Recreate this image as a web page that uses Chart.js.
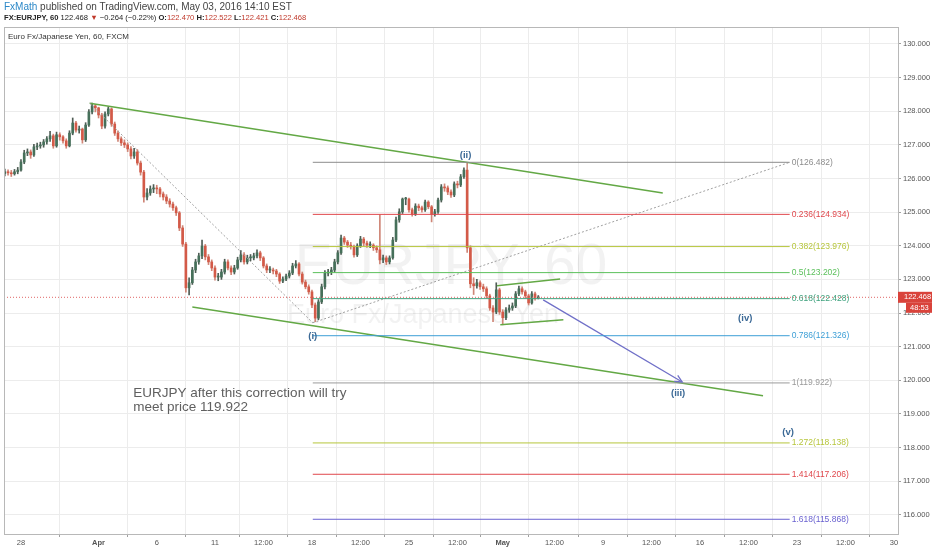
<!DOCTYPE html>
<html>
<head>
<meta charset="utf-8">
<script src="https://cdn.jsdelivr.net/npm/chart.js@4.4.0/dist/chart.umd.min.js"></script>
<style>
  html, body { margin: 0; padding: 0; background: #fff; }
  #wrap { position: relative; width: 932px; height: 550px; overflow: hidden;
          font-family: "Liberation Sans", Arial, sans-serif; }
  #chart { position: absolute; left: 0; top: 0; }
  .h1 { position: absolute; left: 4px; top: 1px; font-size: 10px; color: #444; white-space: nowrap; }
  .h1 .user { color: #2b88c8; }
  .h2 { position: absolute; left: 4px; top: 13px; font-size: 7.6px; color: #222; white-space: nowrap; }
  .h2 .r { color: #c0392b; }
  .pane { position: absolute; left: 8px; top: 32px; font-size: 8px; color: #333; white-space: nowrap; }
</style>
</head>
<body>
<div id="wrap">
  <canvas id="chart" width="932" height="550"></canvas>
  <div class="h1"><span class="user">FxMath</span> published on TradingView.com, May 03, 2016 14:10 EST</div>
  <div class="h2"><b>FX:EURJPY, 60</b> 122.468 <span class="r">&#9660;</span> &minus;0.264 (&minus;0.22%) <b>O:</b><span class="r">122.470</span> <b>H:</b><span class="r">122.522</span> <b>L:</b><span class="r">122.421</span> <b>C:</b><span class="r">122.468</span></div>
  <div class="pane">Euro Fx/Japanese Yen, 60, FXCM</div>
</div>
<script>
// 4 hour candles, time in trading hours from Mon 28 Mar 2016 00:00
const startHour = -20;
const barHours = 4;

const opens = [
  126.15,126.20,126.17,126.14,126.20,126.25,126.49,126.76,126.79,126.70,
  126.94,126.97,127.00,127.09,127.18,127.27,126.97,127.30,127.24,127.12,
  126.97,127.35,127.65,127.44,127.47,127.15,127.59,127.98,128.16,128.10,
  127.89,127.56,127.92,128.07,127.62,127.35,127.18,127.06,127.00,126.88,
  126.67,126.79,126.46,126.19,125.45,125.57,125.69,125.72,125.69,125.54,
  125.45,125.33,125.24,125.13,124.98,124.53,124.05,122.75,122.90,123.28,
  123.52,123.70,123.99,123.67,123.52,123.34,123.07,123.07,123.22,123.52,
  123.34,123.22,123.34,123.58,123.73,123.52,123.64,123.64,123.70,123.79,
  123.64,123.40,123.28,123.28,123.25,123.16,122.95,123.01,123.10,123.19,
  123.40,123.46,123.16,122.92,122.78,122.63,122.24,121.85,122.33,122.78,
  123.19,123.22,123.28,123.52,123.79,124.23,124.11,124.02,123.97,123.73,
  124.00,124.20,124.08,124.02,124.02,123.94,123.88,123.58,123.64,123.52,
  123.64,124.17,124.77,125.01,125.39,125.39,125.07,124.95,125.18,125.13,
  125.07,125.30,125.16,124.95,125.01,125.36,125.75,125.72,125.60,125.51,
  125.84,125.81,126.05,126.25,123.94,122.87,122.81,122.90,122.78,122.72,
  122.51,122.15,122.03,122.69,122.03,121.86,122.09,122.15,122.21,122.57,
  122.72,122.63,122.51,122.30,122.57,122.45
];
const highs = [
  126.28,126.26,126.24,126.27,126.33,126.56,126.84,126.88,126.85,127.02,
  127.05,127.08,127.16,127.25,127.40,127.32,127.38,127.36,127.28,127.18,
  127.42,127.80,127.70,127.56,127.50,127.66,128.05,128.24,128.20,128.12,
  127.94,127.98,128.13,128.10,127.68,127.42,127.24,127.15,127.06,126.95,
  126.90,126.86,126.52,126.24,125.70,125.78,125.82,125.80,125.74,125.60,
  125.52,125.40,125.30,125.18,125.02,124.60,124.10,123.05,123.36,123.60,
  123.78,124.17,124.04,123.74,123.58,123.40,123.18,123.30,123.60,123.58,
  123.40,123.42,123.66,123.86,123.80,123.72,123.74,123.78,123.88,123.84,
  123.68,123.46,123.38,123.34,123.30,123.20,123.08,123.16,123.26,123.48,
  123.56,123.50,123.22,122.98,122.84,122.68,122.30,122.40,122.86,123.26,
  123.30,123.36,123.60,123.86,124.32,124.28,124.16,124.10,124.02,124.06,
  124.28,124.25,124.14,124.12,124.06,124.00,124.92,123.72,123.70,123.70,
  124.25,124.85,125.10,125.42,125.44,125.42,125.12,125.25,125.24,125.18,
  125.36,125.34,125.20,125.08,125.42,125.82,125.84,125.78,125.66,125.90,
  125.92,126.12,126.32,126.48,124.00,123.05,123.00,122.96,122.86,122.78,
  122.56,122.22,122.90,122.74,122.10,122.16,122.24,122.30,122.64,122.80,
  122.78,122.68,122.56,122.64,122.62,122.52
];
const lows = [
  126.08,126.10,126.06,126.10,126.14,126.22,126.44,126.68,126.60,126.66,
  126.86,126.90,126.93,127.02,127.10,126.90,126.93,127.14,127.05,126.90,
  126.94,127.30,127.38,127.35,127.05,127.10,127.55,127.92,127.98,127.80,
  127.48,127.50,127.86,127.55,127.28,127.10,126.98,126.92,126.80,126.58,
  126.60,126.40,126.10,125.30,125.36,125.50,125.58,125.55,125.45,125.36,
  125.25,125.15,125.05,124.90,124.45,123.98,122.62,122.54,122.85,123.20,
  123.45,123.62,123.58,123.44,123.26,122.98,122.96,123.00,123.16,123.28,
  123.14,123.16,123.30,123.52,123.45,123.46,123.55,123.58,123.64,123.56,
  123.34,123.20,123.20,123.16,123.08,122.88,122.90,122.96,123.04,123.14,
  123.34,123.10,122.86,122.72,122.56,122.16,121.74,121.80,122.28,122.72,
  123.10,123.14,123.22,123.46,123.74,124.04,123.95,123.90,123.66,123.68,
  123.95,124.00,123.95,123.94,123.86,123.80,123.46,123.50,123.44,123.46,
  123.60,124.12,124.70,124.96,125.22,125.00,124.88,124.90,125.04,125.00,
  125.02,125.10,124.71,124.88,124.96,125.30,125.62,125.52,125.44,125.46,
  125.72,125.76,126.00,123.80,122.75,122.55,122.74,122.70,122.64,122.44,
  122.08,121.74,121.98,121.96,121.65,121.80,122.02,122.08,122.16,122.52,
  122.56,122.44,122.24,122.26,122.38,122.42
];
const closes = [
  126.20,126.17,126.14,126.20,126.25,126.49,126.76,126.79,126.70,126.94,
  126.97,127.00,127.09,127.18,127.27,126.97,127.30,127.24,127.12,126.97,
  127.35,127.65,127.44,127.47,127.15,127.59,127.98,128.16,128.10,127.89,
  127.56,127.92,128.07,127.62,127.35,127.18,127.06,127.00,126.88,126.67,
  126.79,126.46,126.19,125.45,125.57,125.69,125.72,125.69,125.54,125.45,
  125.33,125.24,125.13,124.98,124.53,124.05,122.75,122.90,123.28,123.52,
  123.70,123.99,123.67,123.52,123.34,123.07,123.07,123.22,123.52,123.34,
  123.22,123.34,123.58,123.73,123.52,123.64,123.64,123.70,123.79,123.64,
  123.40,123.28,123.28,123.25,123.16,122.95,123.01,123.10,123.19,123.40,
  123.46,123.16,122.92,122.78,122.63,122.24,121.85,122.33,122.78,123.19,
  123.22,123.28,123.52,123.79,124.23,124.11,124.02,123.97,123.73,124.00,
  124.20,124.08,124.02,124.02,123.94,123.88,123.58,123.64,123.52,123.64,
  124.17,124.77,125.01,125.39,125.39,125.07,124.95,125.18,125.13,125.07,
  125.30,125.16,124.95,125.01,125.36,125.75,125.72,125.60,125.51,125.84,
  125.81,126.05,126.25,123.94,122.87,122.81,122.90,122.78,122.72,122.51,
  122.15,122.03,122.69,122.03,121.86,122.09,122.15,122.21,122.57,122.72,
  122.63,122.51,122.30,122.57,122.45,122.47
];

const lastPrice = 122.468;
const countdown = '48:53';

const priceTicks = [116,117,118,119,120,121,122,123,124,125,126,127,128,129,130];
const timeTickHours = [0,96,168,240,300,360,420,480,540,596,660,720,780,840,900,960,1020,1080];
const timeTickLabels = ['28','Apr','6','11','12:00','18','12:00','25','12:00','May','12:00','9','12:00','16','12:00','23','12:00','30'];

// Fibonacci levels
const fibRatios = ['0','0.236','0.382','0.5','0.618','0.786','1','1.272','1.414','1.618'];
const fibPrices = [126.482,124.934,123.976,123.202,122.428,121.326,119.922,118.138,117.206,115.868];
const fibFrom = 361;
const fibTo = 951;

// drawings: [hour, price]
const channelTop = [[85, 128.24], [794, 125.57]];
const channelBottom = [[212, 122.18], [918, 119.54]];
const dottedDown = [[85, 128.24], [361, 121.71]];
const dottedUp = [[361, 121.71], [951, 126.482]];
const triangleTop = [[589, 122.81], [667, 123.01]];
const triangleBottom = [[593, 121.65], [671, 121.80]];
const arrowPath = [[646, 122.39], [818, 119.95]];

const waveNames = ['(i)', '(ii)', '(iii)', '(iv)', '(v)'];
const waveHours = [361, 550, 813, 896, 949];
const wavePrices = [121.32, 126.70, 119.62, 121.85, 118.44];

const noteLines = ['EURJPY after this correction will try', 'meet price 119.922'];
const noteHour = 139;
const notePrices = [119.62, 119.21];

const xMin = -21, xMax = 1085;
const yMin = 115.43, yMax = 130.505;

// styles
const fibColors = ['#8c8c8c','#e0474c','#b7c63c','#5cc05c','#3fa27e','#3d9fd6','#9a9a9a','#b7c63c','#e0474c','#6a62d0'];
const upBody = '#46705a', downBody = '#d35a48';
const upWick = '#4f5d55', downWick = '#cf8576';
const green = '#63a845';
const fontFam = '"Liberation Sans", Arial, sans-serif';

const hours = closes.map((c, i) => startHour + barHours * i);
const isUp = closes.map((c, i) => c >= opens[i]);

const seg = (points, color, width, dash) => ({
    type: 'line',
    data: points.map(p => ({x: p[0], y: p[1]})),
    borderColor: color,
    borderWidth: width,
    borderDash: dash || [],
    pointRadius: 0,
    fill: false,
    tension: 0,
    order: 1
});

const datasets = [];
fibPrices.forEach((p, k) => datasets.push(seg([[fibFrom, p], [fibTo, p]], fibColors[k], 1)));
datasets.push(seg([[xMin, lastPrice], [xMax, lastPrice]], '#e06666', 1, [1, 2]));
datasets.push(seg(dottedDown, '#a0a0a0', 1, [2, 2]));
datasets.push(seg(dottedUp, '#a0a0a0', 1, [2, 2]));
datasets.push(seg(channelTop, green, 1.5));
datasets.push(seg(channelBottom, green, 1.5));
datasets.push(seg(triangleTop, green, 1.5));
datasets.push(seg(triangleBottom, green, 1.5));
datasets.push(seg(arrowPath, '#7070c8', 1.3));

datasets.push({
    type: 'bar',
    data: hours.map((h, i) => ({x: h, y: [opens[i], closes[i]]})),
    backgroundColor: isUp.map(u => u ? upBody : downBody),
    barThickness: 2,
    minBarLength: 1,
    grouped: false,
    order: 2
});
datasets.push({
    type: 'bar',
    data: hours.map((h, i) => ({x: h, y: [lows[i], highs[i]]})),
    backgroundColor: isUp.map(u => u ? upWick : downWick),
    barThickness: 1,
    grouped: false,
    order: 3
});

const overlay = {
    id: 'overlay',
    beforeDatasetsDraw(chart) {
        const {ctx, chartArea: a} = chart;
        const cx = (a.left + a.right) / 2;
        const cy = (a.top + a.bottom) / 2;
        ctx.save();
        ctx.fillStyle = 'rgba(90,90,90,0.08)';
        ctx.textAlign = 'center';
        ctx.textBaseline = 'alphabetic';
        ctx.font = '57px ' + fontFam;
        ctx.fillText('EURJPY, 60', cx, cy + 3);
        ctx.font = '27px ' + fontFam;
        ctx.fillText('Euro Fx/Japanese Yen', cx - 28, cy + 42);
        ctx.restore();
    },
    afterDatasetsDraw(chart) {
        const {ctx} = chart;
        const x = chart.scales.x, y = chart.scales.y;
        ctx.save();

        // fib labels
        ctx.font = '8.5px ' + fontFam;
        ctx.textAlign = 'left';
        ctx.textBaseline = 'middle';
        fibPrices.forEach((p, k) => {
            ctx.fillStyle = fibColors[k];
            ctx.fillText(fibRatios[k] + '(' + p.toFixed(3) + ')', x.getPixelForValue(fibTo) + 2, y.getPixelForValue(p));
        });

        // wave labels
        ctx.font = 'bold 9.5px ' + fontFam;
        ctx.textAlign = 'center';
        ctx.fillStyle = '#3b6996';
        waveNames.forEach((w, k) => {
            ctx.fillText(w, x.getPixelForValue(waveHours[k]), y.getPixelForValue(wavePrices[k]));
        });

        // note
        ctx.font = '13.5px ' + fontFam;
        ctx.textAlign = 'left';
        ctx.fillStyle = '#606060';
        noteLines.forEach((t, k) => {
            ctx.fillText(t, x.getPixelForValue(noteHour), y.getPixelForValue(notePrices[k]));
        });

        // arrow head
        const x0 = x.getPixelForValue(arrowPath[0][0]), y0 = y.getPixelForValue(arrowPath[0][1]);
        const x1 = x.getPixelForValue(arrowPath[1][0]), y1 = y.getPixelForValue(arrowPath[1][1]);
        const ang = Math.atan2(y1 - y0, x1 - x0);
        ctx.strokeStyle = '#7070c8';
        ctx.lineWidth = 1.3;
        ctx.beginPath();
        ctx.moveTo(x1 - 8 * Math.cos(ang - 0.45), y1 - 8 * Math.sin(ang - 0.45));
        ctx.lineTo(x1, y1);
        ctx.lineTo(x1 - 8 * Math.cos(ang + 0.45), y1 - 8 * Math.sin(ang + 0.45));
        ctx.stroke();
        ctx.restore();
    },
    afterDraw(chart) {
        const {ctx, chartArea: a} = chart;
        const y = chart.scales.y;
        ctx.save();
        ctx.strokeStyle = '#b8b8b8';
        ctx.lineWidth = 1;
        ctx.strokeRect(a.left + 0.5, a.top + 0.5, a.right - a.left, a.bottom - a.top);

        // last price tag
        const py = y.getPixelForValue(lastPrice);
        ctx.fillStyle = '#d9433b';
        ctx.fillRect(a.right, py - 5.5, 34, 11);
        ctx.fillRect(a.right + 8, py + 5.5, 26, 10);
        ctx.fillStyle = '#fff';
        ctx.font = '7.5px ' + fontFam;
        ctx.textAlign = 'left';
        ctx.textBaseline = 'middle';
        ctx.fillText(lastPrice.toFixed(3), a.right + 6, py);
        ctx.fillText(countdown, a.right + 12, py + 10.5);
        ctx.restore();
    }
};

new Chart(document.getElementById('chart'), {
    type: 'bar',
    data: {datasets},
    options: {
        responsive: false,
        animation: false,
        events: [],
        layout: {padding: {top: 27, left: 4, right: 0, bottom: 0}},
        plugins: {legend: {display: false}, tooltip: {enabled: false}},
        scales: {
            x: {
                type: 'linear',
                min: xMin,
                max: xMax,
                offset: false,
                afterBuildTicks: s => { s.ticks = timeTickHours.map(v => ({value: v})); },
                afterFit: s => { s.height = 16; },
                grid: {color: '#ececec', tickColor: '#a0a0a0', tickLength: 3},
                border: {color: '#a8a8a8'},
                ticks: {
                    autoSkip: false,
                    maxRotation: 0,
                    padding: 1,
                    color: '#555',
                    font: c => ({family: fontFam, size: 7.5, weight: (c.tick && (c.tick.value === 96 || c.tick.value === 596)) ? 'bold' : 'normal'}),
                    callback: v => timeTickLabels[timeTickHours.indexOf(v)]
                }
            },
            y: {
                type: 'linear',
                position: 'right',
                min: yMin,
                max: yMax,
                afterBuildTicks: s => { s.ticks = priceTicks.map(v => ({value: v})); },
                afterFit: s => { s.width = 34; },
                grid: {color: '#ececec', tickColor: '#a0a0a0', tickLength: 3},
                border: {color: '#a8a8a8'},
                ticks: {
                    padding: 2,
                    color: '#555',
                    font: {family: fontFam, size: 7.5},
                    callback: v => v.toFixed(3)
                }
            }
        }
    },
    plugins: [overlay]
});
</script>
</body>
</html>
